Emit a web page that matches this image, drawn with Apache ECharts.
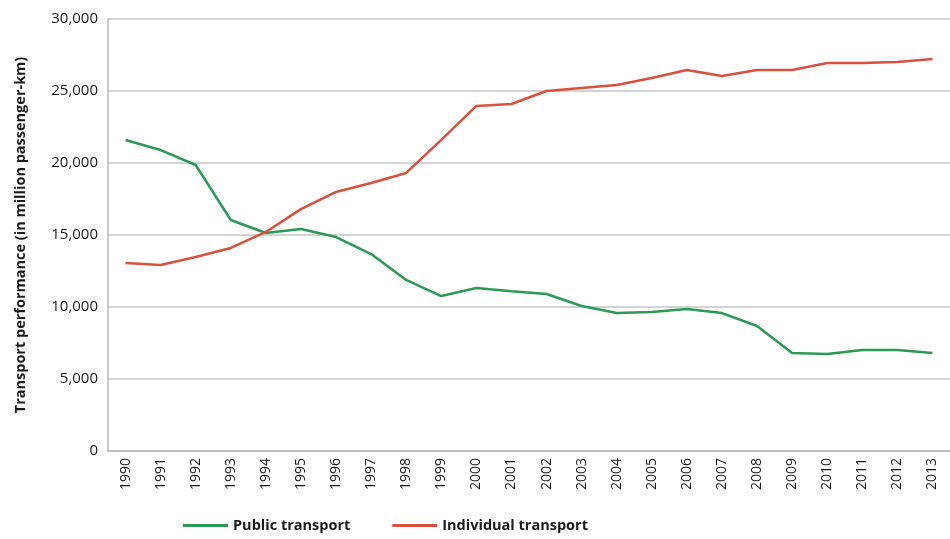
<!DOCTYPE html>
<html><head><meta charset="utf-8">
<script src="https://cdn.jsdelivr.net/npm/echarts@6/dist/echarts.min.js"></script>
<style>html,body{margin:0;padding:0;background:#fff}#c{width:950px;height:539px}</style>
</head><body><div id="c"></div>
<script>
const years = ['1990','1991','1992','1993','1994','1995','1996','1997','1998','1999','2000','2001','2002','2003','2004','2005','2006','2007','2008','2009','2010','2011','2012','2013'];
const publicTransport = [21600,20900,19860,16040,15140,15420,14860,13680,11880,10760,11320,11100,10900,10070,9580,9650,9860,9580,8680,6800,6740,7010,7010,6800];
const individualTransport = [13060,12920,13470,14100,15210,16800,17990,18610,19310,21600,23960,24100,25000,25210,25420,25900,26460,26040,26460,26460,26940,26940,27010,27220];
const yTicks = [0,5000,10000,15000,20000,25000,30000];

const font = '"Open Sans", "Noto Sans", sans-serif';
const chart = echarts.init(document.getElementById('c'), null, {renderer:'canvas'});
chart.setOption({
  animation:false,
  grid:{left:108, right:-14, top:19, bottom:88, containLabel:false},
  legend:{
    left:178, top:513, itemWidth:45, itemHeight:3, itemGap:42,
    icon:'rect',
    textStyle:{fontFamily:font, fontWeight:'bold', fontSize:14.5, color:'#1a1a1a'},
    data:['Public transport','Individual transport']
  },
  xAxis:{
    type:'category', data:years, boundaryGap:true,
    axisLine:{lineStyle:{color:'#b8b8b8', width:1.5}},
    axisTick:{show:false},
    axisLabel:{rotate:90, interval:0, fontFamily:font, fontSize:14, color:'#1a1a1a', margin:7}
  },
  yAxis:{
    type:'value', min:yTicks[0], max:yTicks[yTicks.length-1], interval:5000,
    name:'Transport performance (in million passenger-km)',
    nameLocation:'middle', nameGap:80, nameRotate:90,
    nameTextStyle:{fontFamily:font, fontWeight:'bold', fontSize:14.5, color:'#1a1a1a'},
    axisLine:{show:true, lineStyle:{color:'#b8b8b8', width:1.5}},
    axisTick:{show:false},
    splitLine:{lineStyle:{color:'#c4c4c4', width:1.5}},
    axisLabel:{fontFamily:font, fontSize:15, color:'#1a1a1a', margin:10,
      formatter:v=>v.toLocaleString('en-US')}
  },
  series:[
    {name:'Public transport', type:'line', data:publicTransport, symbol:'none',
     lineStyle:{color:'#2a9a55', width:2.5}, itemStyle:{color:'#2a9a55'}},
    {name:'Individual transport', type:'line', data:individualTransport, symbol:'none',
     lineStyle:{color:'#d9503f', width:2.5}, itemStyle:{color:'#d9503f'}}
  ]
});
</script></body></html>
